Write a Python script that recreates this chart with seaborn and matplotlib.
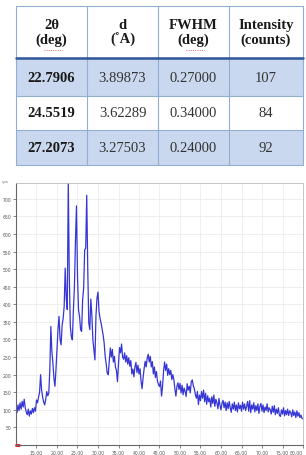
import numpy as np
import matplotlib
matplotlib.use("Agg")
import matplotlib.pyplot as plt
import seaborn as sns
from matplotlib.patches import Rectangle

# --- table data ---
col_headers = ["2θ\n(deg)", "d\n(˚A)", "FWHM\n(deg)", "Intensity\n(counts)"]
peak_2theta = ["22.7906", "24.5519", "27.2073"]
d_spacing = ["3.89873", "3.62289", "3.27503"]
fwhm = ["0.27000", "0.34000", "0.24000"]
peak_counts = ["107", "84", "92"]

# --- XRD pattern (2theta step 0.25 deg from 10 to 80) ---
two_theta = np.arange(10, 80.001, 0.25)
counts = [
    105, 92, 114, 98, 120, 102, 124, 108, 130, 106, 94, 86, 102, 82, 97, 88, 104, 92, 106, 96,           # 10-15
    128, 120, 136, 150, 200, 156, 136, 122, 114, 130, 152, 140, 148, 214, 337, 266, 233, 190, 167, 215,   # 15-20
    271, 330, 366, 300, 285, 340, 360, 394, 503, 417, 385, 750, 480, 337, 308, 299, 384, 450, 580, 680,   # 20-25
    480, 384, 366, 328, 323, 413, 446, 555, 560, 710, 500, 347, 328, 415, 370, 299, 270, 242, 366, 417,   # 25-30
    435, 380, 360, 347, 330, 313, 290, 252, 230, 205, 200, 240, 276, 250, 272, 236, 252, 222, 212, 180,   # 30-35
    232, 277, 262, 287, 250, 244, 262, 236, 254, 230, 248, 224, 240, 202, 216, 194, 222, 235, 206, 227,   # 35-40
    202, 217, 182, 160, 192, 217, 238, 222, 247, 258, 236, 252, 222, 237, 202, 222, 192, 209, 182, 172,   # 40-45
    166, 182, 139, 167, 212, 236, 212, 230, 198, 217, 200, 212, 186, 200, 186, 160, 139, 167, 177, 158,   # 45-50
    175, 148, 170, 143, 162, 152, 138, 174, 156, 167, 148, 180, 185, 168, 160, 143, 133, 152, 115, 142,   # 50-55
    126, 152, 133, 156, 123, 147, 116, 140, 123, 133, 108, 137, 118, 142, 110, 130, 120, 103, 132, 113,   # 55-60
    100, 119, 127, 106, 122, 98, 120, 103, 124, 106, 93, 117, 102, 122, 98, 114, 94, 120, 103, 113,       # 60-65
    96, 122, 102, 117, 98, 110, 124, 96, 126, 92, 114, 102, 120, 94, 112, 98, 117, 90, 110, 118,          # 65-70
    96, 114, 92, 108, 98, 117, 94, 106, 100, 88, 110, 93, 112, 86, 102, 90, 106, 84, 81, 100,             # 70-75
    88, 106, 83, 98, 86, 102, 84, 97, 92, 80, 100, 84, 94, 78, 97, 82, 92, 78, 85, 76,                    # 75-80
    74,
]

sns.set_style("white")
plt.rcParams["font.family"] = ["DejaVu Sans"]

fig = plt.figure(figsize=(3.06, 4.56), dpi=100)

# --- diffractogram ---
ax = fig.add_axes([16 / 306, 10 / 456, 287 / 306, 262 / 456])
sns.lineplot(x=two_theta, y=counts, ax=ax, color="#3636d4", linewidth=0.9)
ax.set_xlim(10, 80)
ax.set_ylim(0, 745)
xt = np.arange(15, 81, 5)
ax.set_xticks(xt)
ax.set_xticklabels([f"{v:.2f}" for v in xt])
ax.get_xticklabels()[-1].set_horizontalalignment("right")
ax.set_yticks(np.arange(50, 701, 50))
ax.tick_params(labelsize=3.3, length=2, width=0.5, colors="#555555", pad=1.5,
               bottom=True, left=True)
ax.grid(color="#ededed", linewidth=0.6)
ax.set_xlabel("")
ax.set_ylabel("")
for s in ["left", "bottom"]:
    ax.spines[s].set_color("#666666")
    ax.spines[s].set_linewidth(0.8)
for s in ["top", "right"]:
    ax.spines[s].set_color("#bbbbbb")
    ax.spines[s].set_linewidth(0.6)
ax.plot([0, 0.012], [0, 0], transform=ax.transAxes, color="red", lw=2, clip_on=False)
fig.text(2 / 306, 1 - 182 / 456, "cps", fontsize=3, color="#777777", va="center")

# --- table (drawn in pixel coordinates) ---
tax = fig.add_axes([0, 0, 1, 1])
tax.set_xlim(0, 306)
tax.set_ylim(456, 0)
tax.axis("off")
tax.patch.set_visible(False)

col_x = [16, 87, 158, 229, 303]
row_y = [7, 59, 97, 131, 166]
fills = ["white", "#c9d8ee", "white", "#c9d8ee"]
for r in range(4):
    tax.add_patch(Rectangle((col_x[0], row_y[r]), col_x[-1] - col_x[0], row_y[r + 1] - row_y[r],
                            facecolor=fills[r], edgecolor="none"))
for x in col_x:
    tax.plot([x, x], [row_y[0], row_y[-1]], color="#93aed3", lw=0.8)
for y in row_y:
    tax.plot([col_x[0], col_x[-1]], [y, y], color="#93aed3", lw=0.8)
tax.plot([col_x[0], col_x[-1]], [row_y[1], row_y[1]], color="#2f5597", lw=1.8)

serif = "Liberation Serif"
for c, h in enumerate(col_headers):
    cx = (col_x[c] + col_x[c + 1]) / 2
    tax.text(cx, (row_y[0] + row_y[1]) / 2, h, ha="center", va="center", fontsize=10.5,
             fontweight="bold", family=serif, color="#1a1a1a", linespacing=1.15)
for c in [0, 2]:
    cx = (col_x[c] + col_x[c + 1]) / 2
    tax.plot([cx - 8, cx + 10], [51, 51], color="#e03030", lw=0.6, ls=":")

columns = [peak_2theta, d_spacing, fwhm, peak_counts]
for r in range(3):
    cy = (row_y[r + 1] + row_y[r + 2]) / 2
    for c, col in enumerate(columns):
        cx = (col_x[c] + col_x[c + 1]) / 2
        tax.text(cx, cy, col[r], ha="center", va="center", fontsize=10.5, family=serif,
                 fontweight="bold" if c == 0 else "normal",
                 color="#1a1a1a" if c == 0 else "#333333")

fig.savefig("out.png", dpi=100)
